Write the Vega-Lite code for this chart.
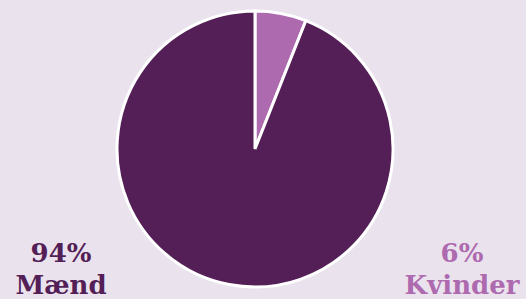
{
  "$schema": "https://vega.github.io/schema/vega-lite/v6.json",
  "autosize": {"type": "fit", "contains": "padding"},
  "width": 526,
  "height": 299,
  "padding": {"left": 0, "right": 16, "top": 0, "bottom": 0},
  "background": "#eae3ee",
  "config": {"view": {"stroke": null}},
  "data": {"values": [
    {"gender": "Kvinder", "value": 6, "pct": "6%", "order": 1},
    {"gender": "Mænd", "value": 94, "pct": "94%", "order": 2}
  ]},
  "encoding": {
    "color": {"field": "gender", "type": "nominal", "legend": null,
      "scale": {"domain": ["Kvinder", "Mænd"], "range": ["#ae6aae", "#541e57"]}}
  },
  "layer": [
    {
      "mark": {"type": "arc", "outerRadius": 138, "stroke": "white", "strokeWidth": 3},
      "encoding": {
        "theta": {"field": "value", "type": "quantitative", "stack": true},
        "order": {"field": "order", "type": "quantitative"}
      }
    },
    {
      "mark": {"type": "text", "font": "DejaVu Serif", "fontWeight": "bold", "fontSize": 26, "baseline": "alphabetic", "align": "center", "y": {"expr": "height - 36"}},
      "encoding": {
        "x": {"field": "gender", "type": "nominal", "axis": null, "scale": {"type": "point", "padding": 0, "domain": ["Mænd", "Kvinder"], "range": [61, 462]}},
        "text": {"field": "pct"}
      }
    },
    {
      "mark": {"type": "text", "font": "DejaVu Serif", "fontWeight": "bold", "fontSize": 26, "baseline": "alphabetic", "align": "center", "y": {"expr": "height - 4"}},
      "encoding": {
        "x": {"field": "gender", "type": "nominal", "axis": null, "scale": {"type": "point", "padding": 0, "domain": ["Mænd", "Kvinder"], "range": [61, 462]}},
        "text": {"field": "gender"}
      }
    }
  ]
}
